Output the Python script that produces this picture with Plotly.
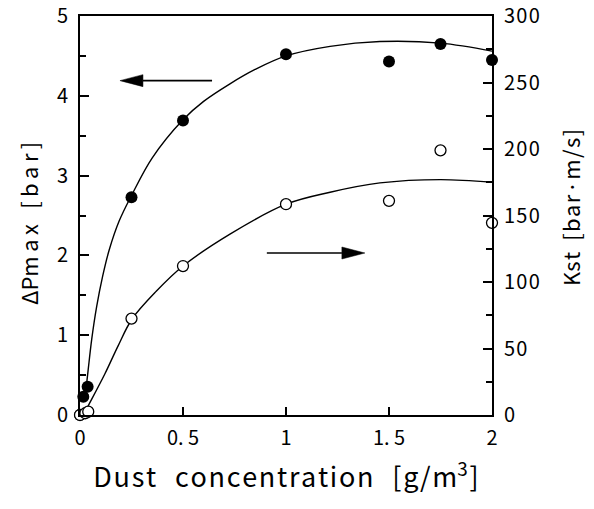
import plotly.graph_objects as go

# Measured points
conc_dp = [0.0, 0.016, 0.037, 0.25, 0.5, 1.0, 1.5, 1.75, 2.0]
dp_max = [0.0, 0.23, 0.355, 2.73, 3.69, 4.52, 4.43, 4.65, 4.45]

conc_kst = [0.0, 0.026, 0.04, 0.25, 0.5, 1.0, 1.5, 1.75, 2.0]
kst = [0.0, 1.3, 2.5, 72.5, 112.0, 158.5, 161.0, 199.0, 144.5]

# Fitted trend curves
fit_dp_x = [0.028, 0.039, 0.057, 0.081, 0.11, 0.142, 0.19, 0.25, 0.35, 0.5, 0.6,
            0.728, 0.85, 1.0, 1.214, 1.456, 1.75, 2.0]
fit_dp_y = [0.30, 0.55, 0.95, 1.36, 1.74, 2.07, 2.43, 2.75, 3.22, 3.70, 3.93,
            4.15, 4.33, 4.50, 4.62, 4.68, 4.66, 4.56]

fit_kst_x = [0.017, 0.037, 0.121, 0.185, 0.252, 0.37, 0.5, 0.728, 1.0, 1.214, 1.456, 1.75, 2.0]
fit_kst_y = [0.0, 6.0, 31.0, 52.0, 72.0, 93.0, 112.0, 136.0, 158.5, 167.5, 174.5, 177.0, 175.0]

# Axis ticks
x_tickvals = [0, 0.5, 1, 1.5, 2]
x_ticktext = ["0", "0. 5", "1", "1. 5", "2"]
y2_tickvals = [0, 50, 100, 150, 200, 250, 300]

# Direction arrows: (tail x, head x, y on the left axis)
arrow_left = (0.641, 0.194, 4.19)
arrow_right = (0.907, 1.383, 2.03)

W, H = 594, 509
ML, MR, MT, MB = 80, 102, 16, 94
XR, YR = (0, 2), (0, 5)
PW, PH = W - ML - MR, H - MT - MB
px_x = PW / (XR[1] - XR[0])
px_y = PH / (YR[1] - YR[0])

FONT = "Noto Sans CJK JP, Liberation Sans, sans-serif"


def spaced(s, gap="\u200a", word="\u2002"):
    return gap.join(s).replace(gap + " " + gap, word)


fig = go.Figure()

fig.add_trace(go.Scatter(x=fit_kst_x, y=fit_kst_y, yaxis="y2", mode="lines",
                         line=dict(color="black", width=1.4, shape="spline", smoothing=1.0),
                         showlegend=False, hoverinfo="skip"))
fig.add_trace(go.Scatter(x=conc_kst, y=kst, yaxis="y2", mode="markers", cliponaxis=False,
                         marker=dict(symbol="circle", size=11, color="white",
                                     line=dict(color="black", width=1.3)),
                         showlegend=False))
fig.add_trace(go.Scatter(x=fit_dp_x, y=fit_dp_y, mode="lines",
                         line=dict(color="black", width=1.4, shape="spline", smoothing=1.0),
                         showlegend=False, hoverinfo="skip"))
fig.add_trace(go.Scatter(x=conc_dp, y=dp_max, mode="markers", cliponaxis=False,
                         marker=dict(symbol="circle", size=12, color="black"),
                         showlegend=False))

# Arrows: shaft line plus a slim filled head
head_len, head_half = 23 / px_x, 6 / px_y
for tail, head, yy in (arrow_left, arrow_right):
    d = 1 if head > tail else -1
    base = head - d * head_len
    fig.add_shape(type="line", x0=tail, x1=base, y0=yy, y1=yy, xref="x", yref="y",
                  line=dict(color="black", width=1.6))
    fig.add_shape(type="path", xref="x", yref="y",
                  path=f"M{head},{yy} L{base},{yy + head_half} L{base},{yy - head_half} Z",
                  fillcolor="black", line=dict(color="black", width=0.5))

tick_font = dict(family=FONT, size=20, color="black")

fig.update_layout(
    width=W, height=H,
    margin=dict(l=ML, r=MR, t=MT, b=MB, autoexpand=False),
    paper_bgcolor="white", plot_bgcolor="white",
    xaxis=dict(range=list(XR), tickvals=x_tickvals, ticktext=x_ticktext,
               ticks="inside", ticklen=8, tickwidth=1.5, tickcolor="black",
               showline=True, linewidth=2, linecolor="black", mirror=True,
               showgrid=False, zeroline=False, tickfont=tick_font,
               ticklabelstandoff=4, automargin=False,
               title=dict(text=spaced("Dust concentration [g/m", word="\u2002\u2009")
                          + "<sup>3</sup>\u200a]",
                          font=dict(family=FONT, size=27, color="black"), standoff=18)),
    yaxis=dict(range=list(YR), dtick=1, ticks="inside", ticklen=9, tickwidth=1.5,
               tickcolor="black", showline=True, linewidth=2, linecolor="black",
               showgrid=False, zeroline=False, tickfont=tick_font, ticklabelstandoff=6,
               automargin=False,
               minor=dict(dtick=0.5, ticks="inside", ticklen=6, tickwidth=1.5,
                          tickcolor="black", showgrid=False)),
    yaxis2=dict(range=[0, 300], overlaying="y", side="right", anchor="x",
                ticks="inside", ticklen=9, tickwidth=1.5, tickcolor="black",
                showline=True, linewidth=2, linecolor="black", showgrid=False,
                zeroline=False, tickfont=tick_font, ticklabelstandoff=6,
                automargin=False,
                tickvals=y2_tickvals,
                ticktext=[spaced(str(v)) for v in y2_tickvals],
                minor=dict(dtick=25, ticks="inside", ticklen=6, tickwidth=1.5,
                           tickcolor="black", showgrid=False)),
)

fig.add_annotation(text="\u0394P" + spaced("max [bar]", gap="\u2009", word="\u2002\u2009"),
                   xref="paper", yref="paper",
                   x=-52 / PW, y=1 - (224 - MT) / PH,
                   xanchor="center", yanchor="middle", textangle=-90, showarrow=False,
                   font=dict(family=FONT, size=22, color="black"))
fig.add_annotation(text="K" + spaced("st [bar\u00b7m/s]"), xref="paper", yref="paper",
                   x=1 + 78 / PW, y=1 - (208 - MT) / PH,
                   xanchor="center", yanchor="middle", textangle=-90, showarrow=False,
                   font=dict(family=FONT, size=22, color="black"))

fig.write_html("out.html")
